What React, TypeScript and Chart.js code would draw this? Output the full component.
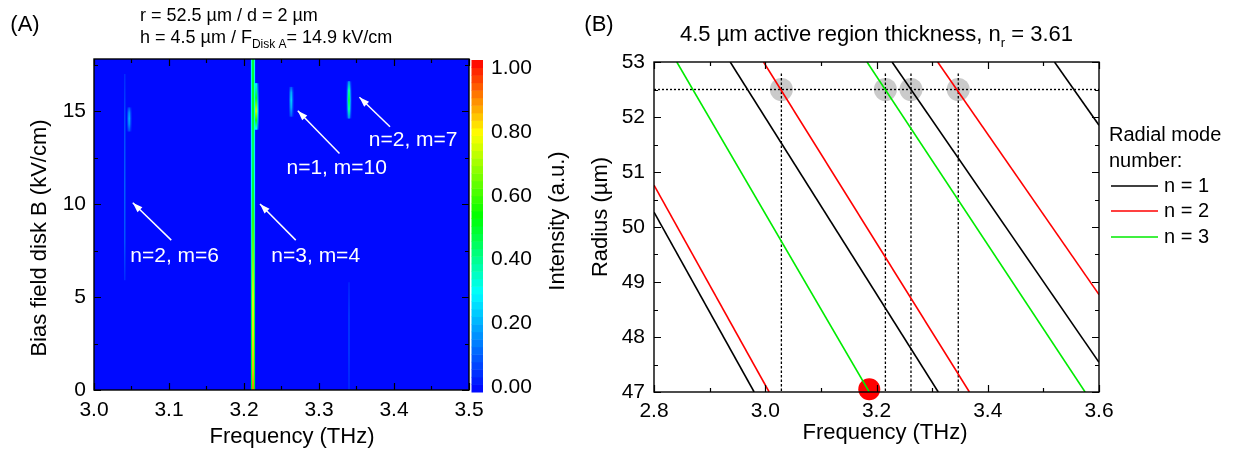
import React, { useEffect, useRef } from 'react';
import { Chart, registerables } from 'chart.js';

Chart.register(...registerables);

const FONT = '"Liberation Sans", Arial, Helvetica, sans-serif';

// ---------------- Panel A : measured intensity map ----------------
const mapFreqMin = 3.0;
const mapFreqMax = 3.5;
const mapFieldMin = 0;
const mapFieldMax = 17.8;
const colorbarMin = -0.01;
const colorbarMax = 1.03;

// dominant n=3, m=4 line
const mainLineFreq = 3.212;
const mainLineField = [0, 1, 3, 5, 7, 9, 11, 13, 15, 17.8];
const mainLineCore = [0.9, 0.84, 0.8, 0.76, 0.66, 0.58, 0.5, 0.46, 0.52, 0.5];
const mainLineHalo = [0.52, 0.5, 0.48, 0.45, 0.4, 0.36, 0.3, 0.28, 0.32, 0.32];

// weaker spots / streaks
const spotFreq = [3.216, 3.263, 3.340, 3.047, 3.041, 3.340];
const spotField = [
  [14.0, 14.5, 15.0, 15.7, 16.5],
  [14.7, 15.2, 15.6, 16.0, 16.3],
  [14.6, 15.1, 15.6, 16.1, 16.6],
  [13.9, 14.3, 14.6, 14.9, 15.2],
  [5.9, 8, 11, 14, 17],
  [0, 2, 4, 5.8],
];
const spotLevel = [
  [0.3, 0.55, 0.72, 0.5, 0.28],
  [0.1, 0.2, 0.24, 0.2, 0.1],
  [0.16, 0.38, 0.46, 0.38, 0.16],
  [0.08, 0.17, 0.2, 0.17, 0.08],
  [0.05, 0.1, 0.11, 0.09, 0.05],
  [0.06, 0.09, 0.09, 0.05],
];
const spotStroke = [2.5, 2, 2, 2, 1.5, 1.2];

// annotations
const labelText = ['n=2, m=6', 'n=3, m=4', 'n=1, m=10', 'n=2, m=7'];
const labelFreq = [3.1075, 3.2956, 3.3236, 3.4255];
const labelField = [7.17, 7.2, 11.95, 13.44];
const arrowTailFreq = [3.103, 3.269, 3.3273, 3.3947];
const arrowTailField = [8.06, 8.06, 12.72, 14.16];
const arrowHeadFreq = [3.0517, 3.2213, 3.2717, 3.3539];
const arrowHeadField = [10.07, 10.0, 15.02, 15.74];

// ---------------- Panel B : mode chart ----------------
const freqMinB = 2.8;
const freqMaxB = 3.6;
const radiusMin = 47;
const radiusMax = 53;
// each line: [f0, r0, f1, r1]
const modeN1 = [
  [2.8, 50.27, 2.98, 47],
  [2.937, 53, 3.311, 47],
  [3.228, 53, 3.6, 47.54],
  [3.52, 53, 3.6, 51.85],
];
const modeN2 = [
  [2.8, 50.76, 3.007, 47],
  [2.997, 53, 3.367, 47],
  [3.31, 53, 3.6, 48.77],
];
const modeN3 = [
  [2.841, 53, 3.187, 47],
  [3.183, 53, 3.575, 47],
];
const targetRadius = 52.5;
const resonanceFreqs = [3.029, 3.216, 3.262, 3.347];
const resonanceTop = 52.79;
const markerFreq = 3.187;
const markerRadius = 47.05;
const legendLabels = ['n = 1', 'n = 2', 'n = 3'];

const GREEN = 'rgb(0,235,0)';
const RED = '#ff0000';
const BLACK = '#000000';

const jetStops: number[][] = [
  [0, 0, 0, 255],
  [0.3, 0, 255, 255],
  [0.53, 0, 255, 0],
  [0.78, 255, 255, 0],
  [1, 255, 0, 0],
];

function jet(v: number): string {
  const t = Math.max(0, Math.min(1, v));
  for (let i = 1; i < jetStops.length; i++) {
    if (t <= jetStops[i][0]) {
      const a = jetStops[i - 1];
      const b = jetStops[i];
      const k = (t - a[0]) / (b[0] - a[0]);
      const r = Math.round(a[1] + (b[1] - a[1]) * k);
      const g = Math.round(a[2] + (b[2] - a[2]) * k);
      const bl = Math.round(a[3] + (b[3] - a[3]) * k);
      return `rgb(${r},${g},${bl})`;
    }
  }
  return 'rgb(255,0,0)';
}

function streak(freq: number, field: number[], level: number[], width: number) {
  return {
    data: field.map((y) => ({ x: freq, y })),
    showLine: true,
    pointRadius: 0,
    borderWidth: width,
    borderCapStyle: 'butt',
    borderColor: (c: any) => {
      const chart = c.chart;
      const ys = chart.scales && chart.scales.y;
      if (!ys || !chart.chartArea) return jet(level[0]);
      const p0 = ys.getPixelForValue(field[0]);
      const p1 = ys.getPixelForValue(field[field.length - 1]);
      if (Math.abs(p1 - p0) < 1) return jet(level[0]);
      const g = chart.ctx.createLinearGradient(0, p0, 0, p1);
      field.forEach((y, i) => {
        const s = Math.max(0, Math.min(1, (ys.getPixelForValue(y) - p0) / (p1 - p0)));
        g.addColorStop(s, jet(level[i]));
      });
      return g;
    },
  };
}

function text(ctx: CanvasRenderingContext2D, s: string, x: number, y: number, size: number, align: CanvasTextAlign = 'center', color = '#000', rot = 0) {
  ctx.save();
  ctx.font = `${size}px ${FONT}`;
  ctx.fillStyle = color;
  ctx.textAlign = align;
  ctx.textBaseline = 'middle';
  ctx.translate(x, y);
  if (rot) ctx.rotate(rot);
  ctx.fillText(s, 0, 0);
  ctx.restore();
}

function subText(ctx: CanvasRenderingContext2D, pre: string, sub: string, post: string, x: number, y: number, size: number, subSize: number, centered: boolean) {
  ctx.save();
  ctx.fillStyle = '#000';
  ctx.textBaseline = 'middle';
  ctx.textAlign = 'left';
  ctx.font = `${size}px ${FONT}`;
  const w1 = ctx.measureText(pre).width;
  const w3 = ctx.measureText(post).width;
  ctx.font = `${subSize}px ${FONT}`;
  const w2 = ctx.measureText(sub).width;
  const x0 = centered ? x - (w1 + w2 + w3) / 2 : x;
  ctx.font = `${size}px ${FONT}`;
  ctx.fillText(pre, x0, y);
  ctx.font = `${subSize}px ${FONT}`;
  ctx.fillText(sub, x0 + w1, y + size * 0.38);
  ctx.font = `${size}px ${FONT}`;
  ctx.fillText(post, x0 + w1 + w2, y);
  ctx.restore();
}

function inwardTicks(chart: any, xStep: number, xMinor: number, yStep: number, yMinor: number) {
  const { ctx, chartArea: a } = chart;
  const xs = chart.scales.x;
  const ys = chart.scales.y;
  ctx.save();
  ctx.strokeStyle = '#000';
  ctx.lineWidth = 1.2;
  const major = 7;
  const minor = 4;
  const eps = 1e-6;
  for (let v = xs.min; v <= xs.max + eps; v += xMinor) {
    const isMajor = Math.abs(v / xStep - Math.round(v / xStep)) < 1e-4;
    const L = isMajor ? major : minor;
    const px = Math.round(xs.getPixelForValue(v)) + 0.5;
    ctx.beginPath();
    ctx.moveTo(px, a.bottom);
    ctx.lineTo(px, a.bottom - L);
    ctx.moveTo(px, a.top);
    ctx.lineTo(px, a.top + L);
    ctx.stroke();
  }
  for (let v = ys.min; v <= ys.max + eps; v += yMinor) {
    const isMajor = Math.abs(v / yStep - Math.round(v / yStep)) < 1e-4;
    const L = isMajor ? major : minor;
    const py = Math.round(ys.getPixelForValue(v)) + 0.5;
    ctx.beginPath();
    ctx.moveTo(a.left, py);
    ctx.lineTo(a.left + L, py);
    ctx.moveTo(a.right, py);
    ctx.lineTo(a.right - L, py);
    ctx.stroke();
  }
  ctx.lineWidth = 1.4;
  ctx.strokeRect(a.left, a.top, a.right - a.left, a.bottom - a.top);
  ctx.restore();
}

function drawArrow(ctx: CanvasRenderingContext2D, x0: number, y0: number, x1: number, y1: number) {
  ctx.beginPath();
  ctx.moveTo(x0, y0);
  ctx.lineTo(x1, y1);
  ctx.stroke();
  const ang = Math.atan2(y1 - y0, x1 - x0);
  const L = 10;
  const W = 3.5;
  ctx.beginPath();
  ctx.moveTo(x1, y1);
  ctx.lineTo(x1 - L * Math.cos(ang) + W * Math.sin(ang), y1 - L * Math.sin(ang) - W * Math.cos(ang));
  ctx.lineTo(x1 - L * Math.cos(ang) - W * Math.sin(ang), y1 - L * Math.sin(ang) + W * Math.cos(ang));
  ctx.closePath();
  ctx.fill();
}

const panelAPlugin = {
  id: 'panelA',
  beforeDatasetsDraw(chart: any) {
    const { ctx, chartArea: a } = chart;
    ctx.save();
    ctx.fillStyle = jet(0.01);
    ctx.fillRect(a.left, a.top, a.right - a.left, a.bottom - a.top);
    ctx.restore();
  },
  afterDraw(chart: any) {
    const { ctx, chartArea: a } = chart;
    const xs = chart.scales.x;
    const ys = chart.scales.y;
    ctx.save();
    ctx.strokeStyle = '#ffffff';
    ctx.fillStyle = '#ffffff';
    ctx.lineWidth = 1.5;
    for (let i = 0; i < labelText.length; i++) {
      drawArrow(
        ctx,
        xs.getPixelForValue(arrowTailFreq[i]),
        ys.getPixelForValue(arrowTailField[i]),
        xs.getPixelForValue(arrowHeadFreq[i]),
        ys.getPixelForValue(arrowHeadField[i])
      );
      text(ctx, labelText[i], xs.getPixelForValue(labelFreq[i]), ys.getPixelForValue(labelField[i]), 21, 'center', '#ffffff');
    }
    ctx.restore();
    inwardTicks(chart, 0.1, 0.05, 5, 2.5);
    // colour bar
    const cb0 = a.right + 2.5;
    const cbW = 11.5;
    const top = a.top + 1;
    const bot = a.bottom + 2;
    const n = 44;
    for (let i = 0; i < n; i++) {
      const y1 = bot - ((i + 1) * (bot - top)) / n;
      const y0 = bot - (i * (bot - top)) / n;
      ctx.fillStyle = jet((i + 0.5) / n);
      ctx.fillRect(cb0, y1, cbW, y0 - y1 + 0.5);
    }
    text(ctx, '(A)', 25, 25, 22, 'center');
    text(ctx, 'r = 52.5 µm / d = 2 µm', 140, 16, 18, 'left');
    subText(ctx, 'h = 4.5 µm / F', 'Disk A', '= 14.9 kV/cm', 140, 38, 18, 12, false);
    text(ctx, 'Frequency (THz)', 292, 437, 22, 'center');
    text(ctx, 'Bias field disk B (kV/cm)', 40, 238, 22, 'center', '#000', -Math.PI / 2);
    text(ctx, 'Intensity (a.u.)', 558, 221, 22, 'center', '#000', -Math.PI / 2);
  },
};

const panelBPlugin = {
  id: 'panelB',
  afterDraw(chart: any) {
    const { ctx, chartArea: a } = chart;
    inwardTicks(chart, 0.2, 0.1, 1, 0.5);
    subText(ctx, '4.5 µm active region thickness, n', 'r', ' = 3.61', (a.left + a.right) / 2, 35, 22, 13, true);
    text(ctx, '(B)', 24, 25, 22, 'center');
    text(ctx, 'Frequency (THz)', 310, 433, 22, 'center');
    text(ctx, 'Radius (µm)', 26, 217, 22, 'center', '#000', -Math.PI / 2);
    const lx = a.right + 10;
    text(ctx, 'Radial mode', lx, 135, 20, 'left');
    text(ctx, 'number:', lx, 161, 20, 'left');
    const colors = [BLACK, RED, GREEN];
    const ly = [186, 211, 237];
    legendLabels.forEach((lab, i) => {
      ctx.save();
      ctx.strokeStyle = colors[i];
      ctx.lineWidth = 1.6;
      ctx.beginPath();
      ctx.moveTo(lx + 2, ly[i]);
      ctx.lineTo(lx + 49, ly[i]);
      ctx.stroke();
      ctx.restore();
      text(ctx, lab, lx + 55, ly[i], 20, 'left');
    });
  },
};

function axisCommon(min: number, max: number, step: number, digits: number, pad: number, size: number) {
  return {
    type: 'linear',
    min,
    max,
    grid: { display: false, drawTicks: false },
    border: { display: false },
    ticks: {
      stepSize: step,
      includeBounds: false,
      autoSkip: false,
      maxRotation: 0,
      padding: pad,
      color: '#000',
      font: { size, family: FONT },
      callback: (v: any) => Number(v).toFixed(digits),
    },
  };
}

function configA(): any {
  const datasets: any[] = [];
  spotFreq.forEach((f, i) => {
    if (spotStroke[i] >= 2) {
      datasets.push(streak(f, spotField[i], spotLevel[i].map((v) => v * 0.4), spotStroke[i] + 2.5));
    }
    datasets.push(streak(f, spotField[i], spotLevel[i], spotStroke[i]));
  });
  datasets.push(streak(mainLineFreq, mainLineField, mainLineHalo, 4.2));
  datasets.push(streak(mainLineFreq, mainLineField, mainLineCore, 1.8));
  datasets.forEach((d, i) => (d.order = datasets.length - i));
  return {
    type: 'scatter',
    data: { datasets },
    options: {
      animation: false,
      responsive: false,
      devicePixelRatio: 1,
      events: [],
      layout: { padding: { top: 59, left: 0, right: 0, bottom: 0 } },
      plugins: { legend: { display: false }, tooltip: { enabled: false }, title: { display: false } },
      scales: {
        x: { ...axisCommon(mapFreqMin, mapFreqMax, 0.1, 1, 8, 21), position: 'bottom', afterFit: (s: any) => { s.height = 60; } },
        y: { ...axisCommon(mapFieldMin, mapFieldMax, 5, 0, 8, 21), position: 'left', afterFit: (s: any) => { s.width = 94; } },
        y2: { ...axisCommon(colorbarMin, colorbarMax, 0.2, 2, 22, 21), position: 'right', afterFit: (s: any) => { s.width = 131; } },
      },
    },
    plugins: [panelAPlugin],
  };
}

function segDs(l: number[], color: string) {
  return {
    data: [{ x: l[0], y: l[1] }, { x: l[2], y: l[3] }],
    showLine: true,
    pointRadius: 0,
    borderColor: color,
    borderWidth: 1.6,
    order: 1,
  };
}

function configB(): any {
  const datasets: any[] = [
    ...modeN1.map((l) => segDs(l, BLACK)),
    ...modeN2.map((l) => segDs(l, RED)),
    ...modeN3.map((l) => segDs(l, GREEN)),
    {
      data: [{ x: freqMinB, y: targetRadius }, { x: freqMaxB, y: targetRadius }],
      showLine: true,
      pointRadius: 0,
      borderColor: '#000',
      borderWidth: 1.4,
      borderDash: [2, 2],
      order: 3,
    },
    ...resonanceFreqs.map((f) => ({
      data: [{ x: f, y: resonanceTop }, { x: f, y: radiusMin }],
      showLine: true,
      pointRadius: 0,
      borderColor: '#000',
      borderWidth: 1.3,
      borderDash: [2.5, 2],
      order: 3,
    })),
    {
      data: resonanceFreqs.map((f) => ({ x: f, y: targetRadius })),
      showLine: false,
      pointRadius: 11.5,
      pointBackgroundColor: 'rgba(150,150,150,0.5)',
      pointBorderWidth: 0,
      order: 5,
    },
    {
      data: [{ x: markerFreq, y: markerRadius }],
      showLine: false,
      pointRadius: 11,
      pointBackgroundColor: '#ff0000',
      pointBorderWidth: 0,
      clip: false,
      order: 4,
    },
  ];
  return {
    type: 'scatter',
    data: { datasets },
    options: {
      animation: false,
      responsive: false,
      devicePixelRatio: 1,
      events: [],
      layout: { padding: { top: 62, left: 0, right: 140, bottom: 0 } },
      plugins: { legend: { display: false }, tooltip: { enabled: false }, title: { display: false } },
      scales: {
        x: { ...axisCommon(freqMinB, freqMaxB, 0.2, 1, 7, 21), position: 'bottom', afterFit: (s: any) => { s.height = 58; } },
        y: { ...axisCommon(radiusMin, radiusMax, 1, 0, 9, 21), position: 'left', afterFit: (s: any) => { s.width = 79; } },
      },
    },
    plugins: [panelBPlugin],
  };
}

export default function App() {
  const refA = useRef<HTMLCanvasElement>(null);
  const refB = useRef<HTMLCanvasElement>(null);
  useEffect(() => {
    const chartA = new Chart(refA.current as HTMLCanvasElement, configA());
    const chartB = new Chart(refB.current as HTMLCanvasElement, configB());
    return () => {
      chartA.destroy();
      chartB.destroy();
    };
  }, []);
  return (
    <div style={{ position: 'absolute', left: 0, top: 0, width: 1239, height: 450, background: '#ffffff', overflow: 'hidden' }}>
      <canvas ref={refA} width={600} height={450} style={{ position: 'absolute', left: 0, top: 0 }} />
      <canvas ref={refB} width={664} height={450} style={{ position: 'absolute', left: 575, top: 0 }} />
    </div>
  );
}
